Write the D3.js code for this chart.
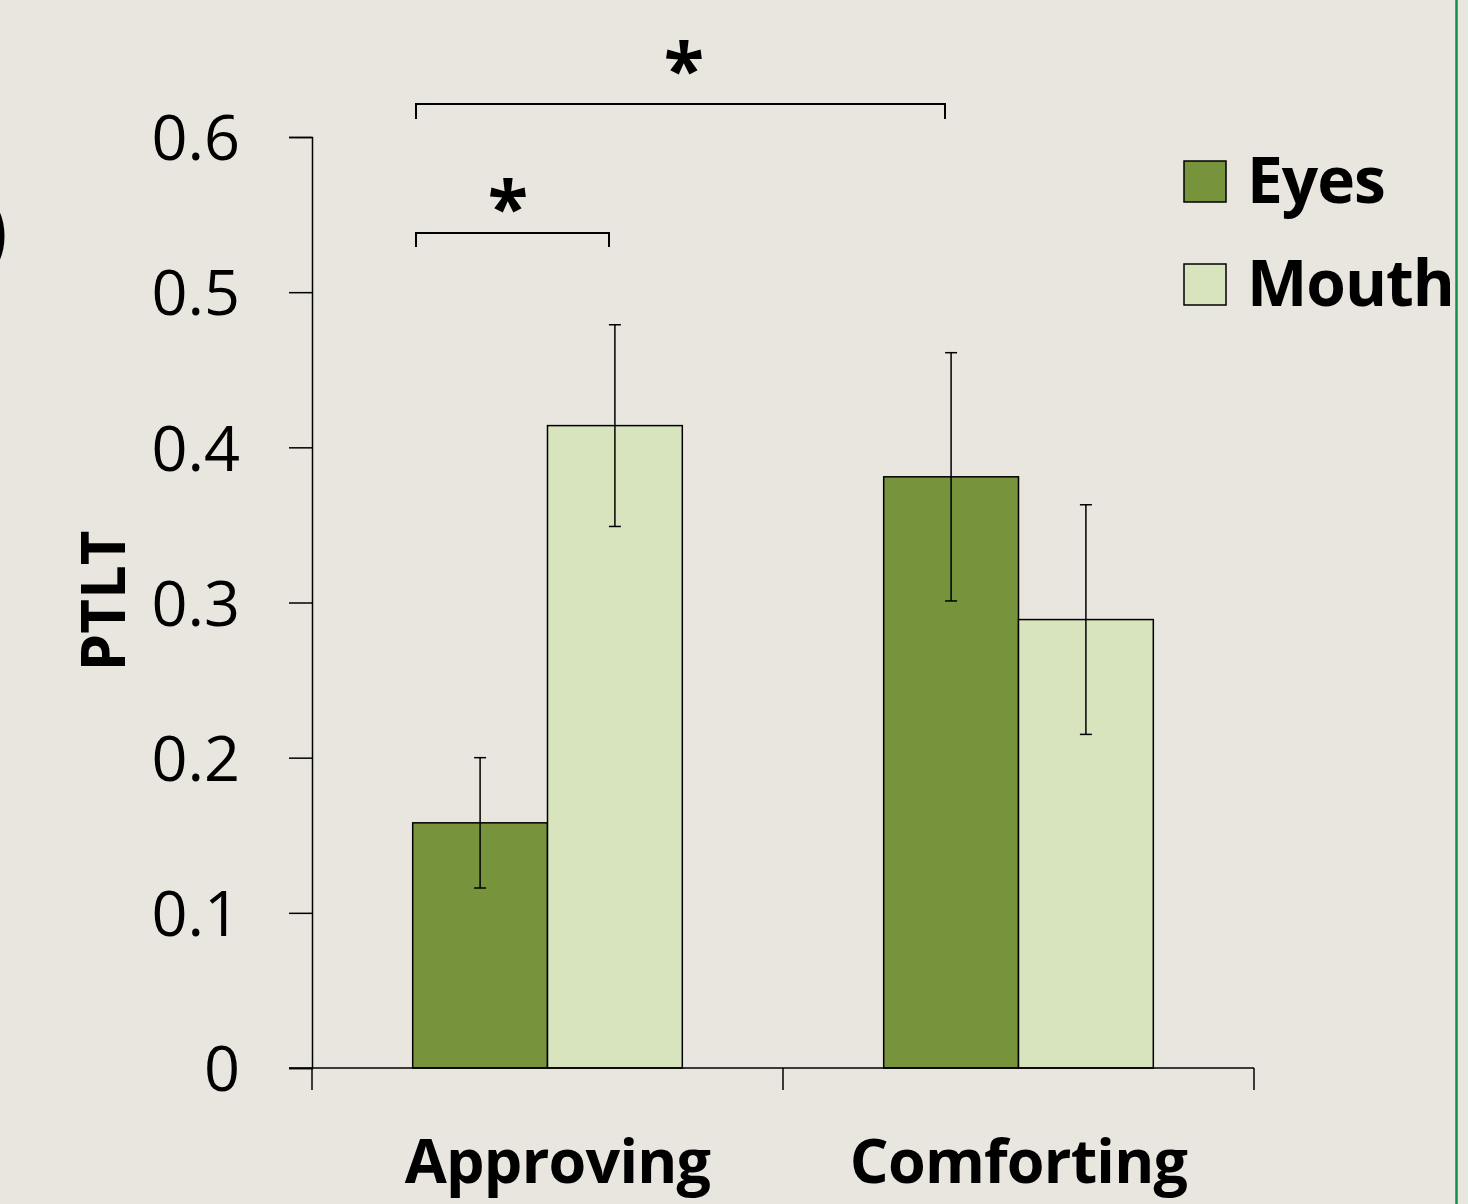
<!DOCTYPE html>
<html>
<head>
<meta charset="utf-8">
<script src="https://cdn.jsdelivr.net/npm/d3@7"></script>
<style>
  html, body { margin: 0; padding: 0; background: #e9e5df; }
  svg { display: block; }
  text { font-family: "Open Sans", Lato, sans-serif; fill: #000; }
</style>
</head>
<body>
<svg id="chart" width="1468" height="1204"></svg>
<script>
// Proportion of total looking time (PTLT) by face region
const categories = ["Approving", "Comforting"];
const seriesNames = ["Eyes", "Mouth"];
const eyesValues = [0.158, 0.381];
const mouthValues = [0.414, 0.289];
const eyesErrors = [0.042, 0.080];
const mouthErrors = [0.065, 0.074];
const yTicks = [0, 0.1, 0.2, 0.3, 0.4, 0.5, 0.6];
const yTickLabels = ["0", "0.1", "0.2", "0.3", "0.4", "0.5", "0.6"];
const seriesColors = ["#77933c", "#d7e4bd"];

const svg = d3.select("#chart");
const W = 1468, H = 1204;

svg.append("rect").attr("width", W).attr("height", H).attr("fill", "#e9e5df");

const x0 = 312, x1 = 1254, yBase = 1068, yTop = 137;
const y = d3.scaleLinear().domain([0, 0.6]).range([yBase, yTop]);
const x = d3.scaleBand().domain(categories).range([x0, x1]).paddingInner(0).paddingOuter(0);
const xs = d3.scaleBand().domain(seriesNames).range([0, x.bandwidth()]).paddingOuter(0.747).paddingInner(0);

// Y axis
const yAxis = d3.axisLeft(y).tickValues(yTicks).tickFormat((d, i) => yTickLabels[i]).tickSize(23).tickPadding(49);
const gy = svg.append("g").attr("transform", `translate(${x0},0)`).call(yAxis);
gy.select(".domain").attr("stroke", "#000").attr("stroke-width", 1.5);
gy.selectAll(".tick line").attr("stroke", "#000").attr("stroke-width", 1.5);
gy.selectAll(".tick text")
  .style("font-size", "63px").style("font-family", "'Open Sans', sans-serif")
  .attr("dy", "0.36em");

// Bars
const rows = categories.map((c, i) => [
  { cat: c, s: "Eyes", v: eyesValues[i], e: eyesErrors[i], color: seriesColors[0] },
  { cat: c, s: "Mouth", v: mouthValues[i], e: mouthErrors[i], color: seriesColors[1] }
]).flat();

svg.append("g").selectAll("rect").data(rows).join("rect")
  .attr("x", d => x(d.cat) + xs(d.s))
  .attr("y", d => y(d.v))
  .attr("width", xs.bandwidth())
  .attr("height", d => yBase - y(d.v))
  .attr("fill", d => d.color)
  .attr("stroke", "#000").attr("stroke-width", 1.5);

// Error bars
const eb = svg.append("g").attr("stroke", "#000").attr("stroke-width", 1.5);
rows.forEach(d => {
  const cx = x(d.cat) + xs(d.s) + xs.bandwidth() / 2;
  eb.append("line").attr("x1", cx).attr("x2", cx).attr("y1", y(d.v + d.e)).attr("y2", y(d.v - d.e));
  eb.append("line").attr("x1", cx - 6).attr("x2", cx + 6).attr("y1", y(d.v + d.e)).attr("y2", y(d.v + d.e));
  eb.append("line").attr("x1", cx - 6).attr("x2", cx + 6).attr("y1", y(d.v - d.e)).attr("y2", y(d.v - d.e));
});

// X axis
const gx = svg.append("g").attr("stroke", "#000").attr("stroke-width", 1.5);
gx.append("line").attr("x1", 289).attr("x2", x1).attr("y1", yBase).attr("y2", yBase);
[x0, x0 + x.bandwidth(), x1].forEach(t => {
  gx.append("line").attr("x1", t).attr("x2", t).attr("y1", yBase).attr("y2", yBase + 22);
});
const labelShift = [10, 0];
svg.append("g").selectAll("text").data(categories).join("text")
  .attr("x", (d, i) => x(d) + x.bandwidth() / 2 + labelShift[i])
  .attr("y", 1183)
  .attr("text-anchor", "middle")
  .style("font-size", "61px").style("font-weight", "bold").style("letter-spacing", "-0.8px")
  .text(d => d);

// Y axis title
svg.append("text")
  .attr("transform", "translate(125,601) rotate(-90)")
  .attr("text-anchor", "middle")
  .style("font-size", "60px").style("font-weight", "bold")
  .text("PTLT");

// Significance brackets
function bracket(xa, xb, yy, drop, labelX, labelY) {
  svg.append("path")
    .attr("d", `M${xa},${yy + drop}V${yy}H${xb}V${yy + drop}`)
    .attr("fill", "none").attr("stroke", "#000").attr("stroke-width", 2);
  svg.append("text").attr("x", labelX).attr("y", labelY).attr("text-anchor", "middle")
    .style("font-size", "74px").style("font-weight", "bold").text("*");
}
bracket(416, 945, 104, 15, 684, 96);
bracket(416, 609, 233, 14, 508, 234);

// Legend
const lg = svg.append("g");
seriesNames.forEach((s, i) => {
  const ly = 161 + i * 103;
  lg.append("rect").attr("x", 1184).attr("y", ly).attr("width", 42).attr("height", 41)
    .attr("fill", seriesColors[i]).attr("stroke", "#000").attr("stroke-width", 1.5);
  lg.append("text").attr("x", 1247).attr("y", ly + 42)
    .style("font-size", "64px").style("font-weight", "bold").style("letter-spacing", "-1px").text(s);
});

// Panel edge and clipped neighbouring label
svg.append("line").attr("x1", 1456.5).attr("x2", 1456.5).attr("y1", 0).attr("y2", H)
  .attr("stroke", "#13914b").attr("stroke-width", 2.5);
svg.append("text").attr("x", -20).attr("y", 259)
  .style("font-size", "82px").style("font-weight", "bold").text(")");
</script>
</body>
</html>
